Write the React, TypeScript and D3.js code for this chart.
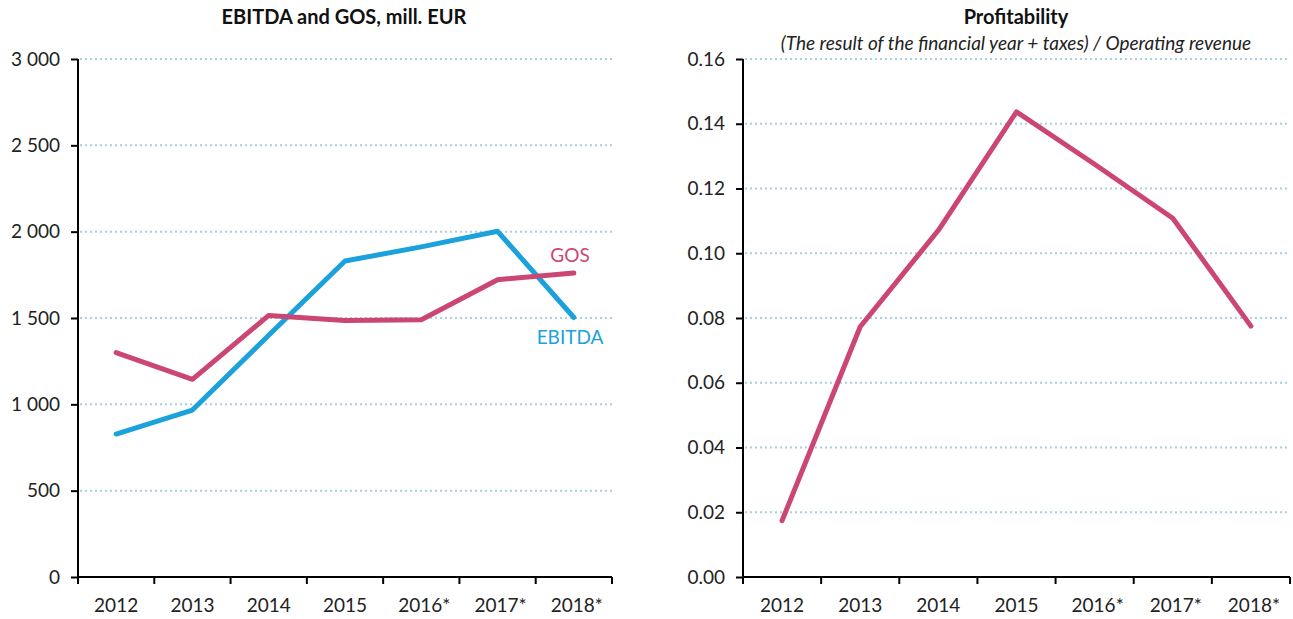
import { useEffect, useRef } from "react";
import * as d3 from "d3";

// Shared categories
const years = ["2012", "2013", "2014", "2015", "2016*", "2017*", "2018*"];

// Left chart series (mill. EUR)
const ebitda = [828, 967, 1400, 1830, 1912, 2002, 1503];
const gos = [1300, 1145, 1515, 1485, 1490, 1722, 1760];
const leftTicks = [0, 500, 1000, 1500, 2000, 2500, 3000];

// Right chart series
const profitability = [0.0174, 0.0773, 0.1071, 0.1437, 0.1275, 0.1108, 0.0775];
const rightTicks = [0, 0.02, 0.04, 0.06, 0.08, 0.1, 0.12, 0.14, 0.16];

const PINK = "#cc4674";
const BLUE = "#1ba1db";
const GRID = "#a8cfe0";
const FONT = "Lato, 'Open Sans', sans-serif";

const W = 1293;
const H = 619;

type Panel = {
    left: number;
    right: number;
    top: number;
    bottom: number;
    ticks: number[];
    max: number;
    fmt: (v: number) => string;
};

export default function App() {
    const svgRef = useRef<SVGSVGElement | null>(null);

    useEffect(() => {
        const svg = d3.select(svgRef.current!);
        svg.selectAll("*").remove();

        const spaced = d3.formatLocale({
            decimal: ".",
            thousands: " ",
            grouping: [3],
            currency: ["", ""],
        }).format(",");

        // draws axes + grid for one panel, returns scales
        function drawPanel(p: Panel) {
            const x = d3.scaleBand<string>().domain(years).range([p.left, p.right]);
            const y = d3.scaleLinear().domain([0, p.max]).range([p.bottom, p.top]);
            const g = svg.append("g");

            // dotted gridlines (not at zero)
            g.selectAll("line.grid")
                .data(p.ticks.filter((t) => t > 0))
                .enter()
                .append("line")
                .attr("x1", p.left + 2)
                .attr("x2", p.right)
                .attr("y1", (d) => y(d))
                .attr("y2", (d) => y(d))
                .attr("stroke", GRID)
                .attr("stroke-width", 2)
                .attr("stroke-dasharray", "2 3");

            // y axis
            const ya = g.append("g")
                .attr("transform", `translate(${p.left},0)`)
                .call(d3.axisLeft(y).tickValues(p.ticks).tickSize(7).tickPadding(11).tickFormat((v) => p.fmt(+v)));
            ya.select(".domain").attr("stroke", "#000").attr("stroke-width", 2)
                .attr("d", `M0,${p.top}V${p.bottom}`);
            ya.selectAll(".tick line").attr("stroke", "#000").attr("stroke-width", 2);
            ya.selectAll(".tick text").attr("font-family", FONT).attr("font-size", 19).attr("fill", "#222");

            // x axis, ticks at band boundaries
            const bounds = years.map((d) => x(d)!).concat([p.right]);
            const xa = g.append("g");
            xa.append("line")
                .attr("x1", p.left).attr("x2", p.right)
                .attr("y1", p.bottom).attr("y2", p.bottom)
                .attr("stroke", "#000").attr("stroke-width", 2);
            xa.selectAll("line.tk")
                .data(bounds)
                .enter()
                .append("line")
                .attr("x1", (d) => d).attr("x2", (d) => d)
                .attr("y1", p.bottom).attr("y2", p.bottom + 7)
                .attr("stroke", "#000").attr("stroke-width", 2);
            xa.selectAll("text")
                .data(years)
                .enter()
                .append("text")
                .attr("x", (d) => x(d)! + x.bandwidth() / 2 + (d.endsWith("*") ? 3 : 0))
                .attr("y", p.bottom + 35)
                .attr("text-anchor", "middle")
                .attr("font-family", FONT)
                .attr("font-size", 19)
                .attr("fill", "#222")
                .text((d) => d);

            return { x, y };
        }

        function drawLine(sc: { x: d3.ScaleBand<string>; y: d3.ScaleLinear<number, number> }, vals: number[], color: string) {
            const line = d3.line<number>()
                .x((_, i) => sc.x(years[i])! + sc.x.bandwidth() / 2)
                .y((d) => sc.y(d));
            svg.append("path")
                .attr("d", line(vals)!)
                .attr("fill", "none")
                .attr("stroke", color)
                .attr("stroke-width", 5)
                .attr("stroke-linejoin", "round")
                .attr("stroke-linecap", "round");
        }

        // Left panel
        const left = drawPanel({
            left: 78, right: 612, top: 59, bottom: 577,
            ticks: leftTicks, max: 3000, fmt: (v) => spaced(v),
        });
        drawLine(left, ebitda, BLUE);
        drawLine(left, gos, PINK);

        svg.append("text")
            .attr("x", 570).attr("y", 262)
            .attr("text-anchor", "middle")
            .attr("font-family", FONT).attr("font-size", 19)
            .attr("fill", PINK).text("GOS");
        svg.append("text")
            .attr("x", 570).attr("y", 344)
            .attr("text-anchor", "middle")
            .attr("font-family", FONT).attr("font-size", 19)
            .attr("fill", BLUE).text("EBITDA");

        svg.append("text")
            .attr("x", 344).attr("y", 24)
            .attr("text-anchor", "middle")
            .attr("font-family", FONT).attr("font-size", 20).attr("font-weight", "bold")
            .attr("fill", "#111").text("EBITDA and GOS, mill. EUR");

        // Right panel
        const right = drawPanel({
            left: 743, right: 1290, top: 59, bottom: 577,
            ticks: rightTicks, max: 0.16, fmt: d3.format(".2f"),
        });
        drawLine(right, profitability, PINK);

        svg.append("text")
            .attr("x", 1016).attr("y", 24)
            .attr("text-anchor", "middle")
            .attr("font-family", FONT).attr("font-size", 20).attr("font-weight", "bold")
            .attr("fill", "#111").text("Profitability");
        svg.append("text")
            .attr("x", 1016).attr("y", 50)
            .attr("text-anchor", "middle")
            .attr("font-family", FONT).attr("font-size", 19).attr("font-style", "italic")
            .attr("fill", "#222").text("(The result of the financial year + taxes) / Operating revenue");
    }, []);

    return (
        <svg
            ref={svgRef}
            width={W}
            height={H}
            style={{ position: "absolute", left: 0, top: 0, background: "#fff" }}
        />
    );
}
